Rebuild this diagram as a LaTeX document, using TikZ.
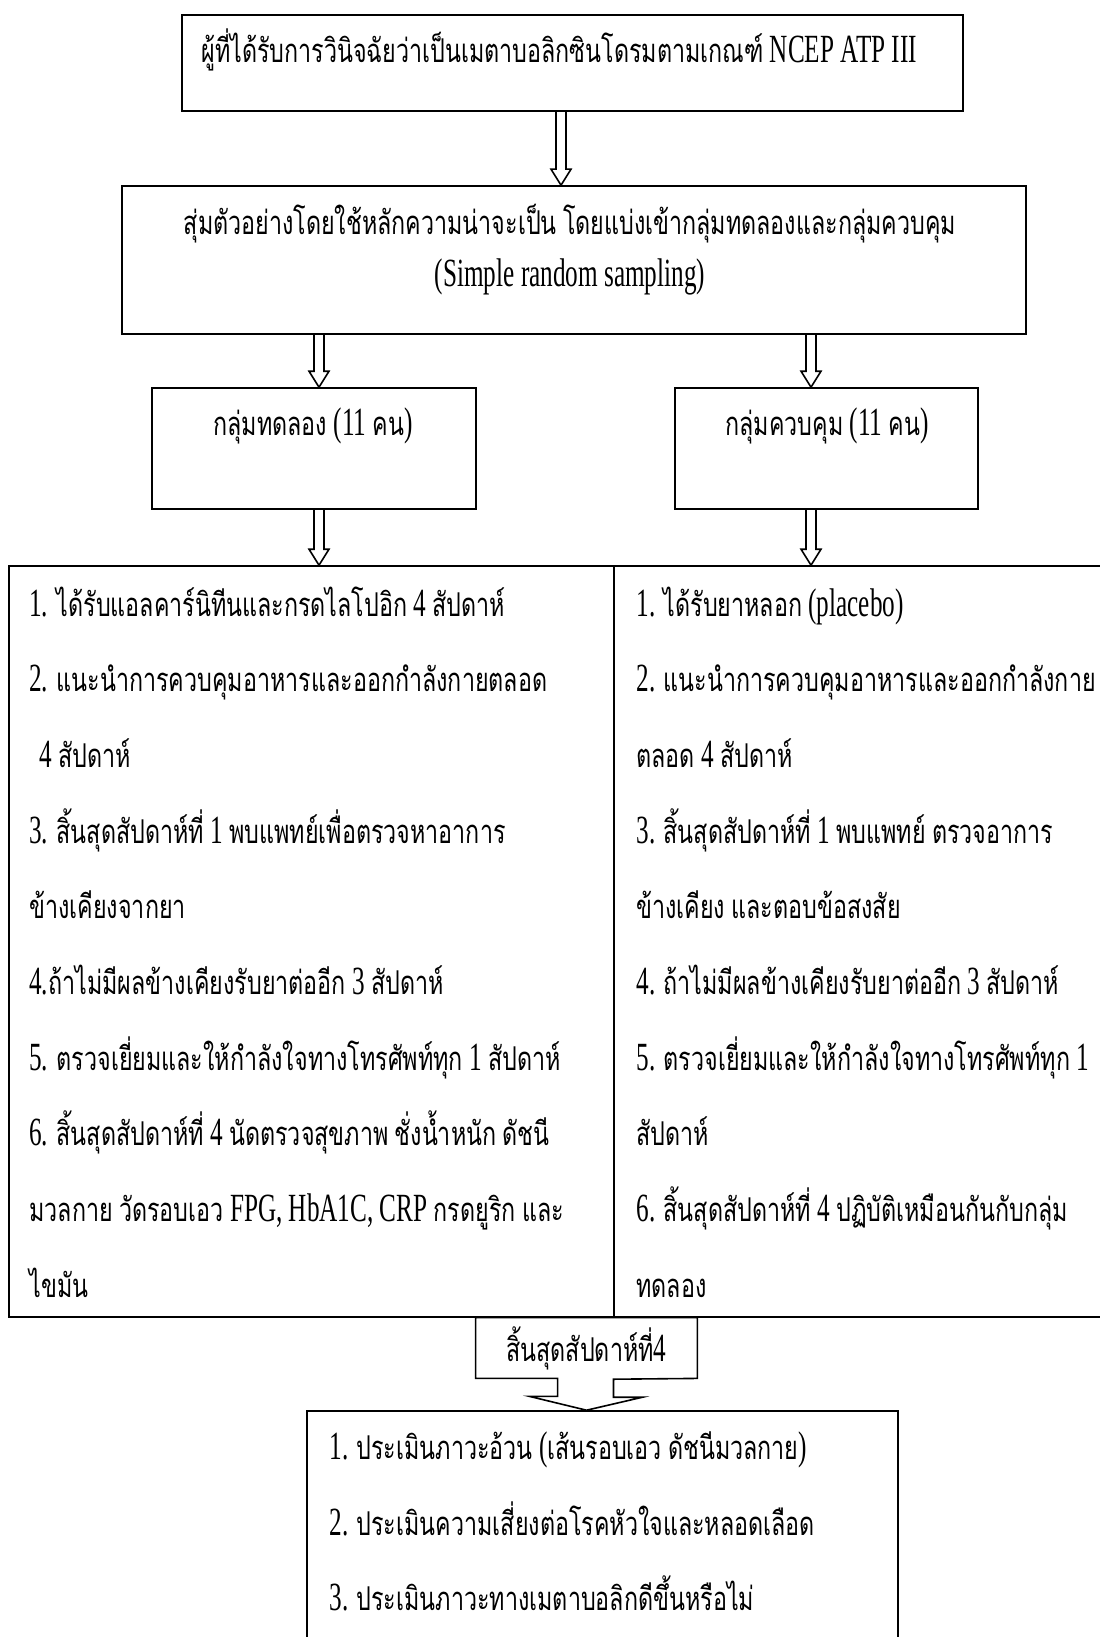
\documentclass[tikz,border=0pt]{standalone}
\usepackage{fontspec}
\setmainfont[FakeStretch=0.63]{Liberation Serif}
\newfontfamily\thaifont[Script=Thai,Scale=0.82,FakeStretch=0.71]{Loma}
\usetikzlibrary{calc}

% Thai runs in Loma, the rest in the main font
\XeTeXinterchartokenstate=1
\newXeTeXintercharclass\thaiclass
\count255="0E00
\loop\ifnum\count255<"0E80
  \XeTeXcharclass\count255=\thaiclass
  \advance\count255 by 1
\repeat
\XeTeXinterchartoks 0 \thaiclass = {\thaifont}
\XeTeXinterchartoks 4095 \thaiclass = {\thaifont}
\XeTeXinterchartoks \thaiclass 0 = {\rmfamily}
\XeTeXinterchartoks \thaiclass 4095 = {\rmfamily}

\newcommand{\bigtxt}{\fontsize{20}{37.85}\selectfont}

\tikzset{
  box/.style={draw, line width=0.8pt, inner sep=0pt},
  txt/.style={inner sep=0pt, font=\bigtxt, align=left},
}

% hollow block arrow at x=#1 from node #2 down to node #3
\newcommand{\holarrow}[3]{%
  \coordinate (hx) at (#1,0);
  \draw[line width=0.8pt] ($(hx |- #2.south)+(-5,0)$) -- ($(hx |- #3.north)+(-5,-16)$) -- ++(-5,0)
    -- (hx |- #3.north) -- ($(hx |- #3.north)+(10,-16)$) -- ++(-5,0) -- ($(hx |- #2.south)+(5,0)$);}

\begin{document}
\begin{tikzpicture}[x=0.5pt,y=-0.5pt]
\useasboundingbox[fill=white] (0,0) rectangle (1099,1637);

%top
\node[box, minimum width=390.5pt, minimum height=48pt] (topbox) at (572.5,63) {};
\node[txt, anchor=west] (toptxt) at (201,50) {ผู้ที่ได้รับการวินิจฉัยว่าเป็นเมตาบอลิกซินโดรมตามเกณฑ์ NCEP ATP III};

%sampling
\node[box, minimum width=452pt, minimum height=74pt] (sampbox) at (574,260) {};
\node[txt, align=center, font=\fontsize{20}{26}\selectfont] (samptxt) at (570,250) {สุ่มตัวอย่างโดยใช้หลักความน่าจะเป็น โดยแบ่งเข้ากลุ่มทดลองและกลุ่มควบคุม\\(Simple random sampling)};

%groups
\node[box, minimum width=162pt, minimum height=60.5pt] (grpA) at (314,448.5) {};
\node[txt] (grpAtxt) at (313,426) {กลุ่มทดลอง (11 คน)};
\node[box, minimum width=151.5pt, minimum height=60.5pt] (grpB) at (826.5,448.5) {};
\node[txt] (grpBtxt) at (827,426) {กลุ่มควบคุม (11 คน)};

%details
\node[box, minimum width=302.5pt, minimum height=375.5pt] (detL) at (311.5,941.5) {};
\node[box, minimum width=248pt, minimum height=375.5pt] (detR) at (862,941.5) {};
\node[txt, anchor=west] (detLtxt) at (29,942) {1. ได้รับแอลคาร์นิทีนและกรดไลโปอิก 4 สัปดาห์\\
2. แนะนำการควบคุมอาหารและออกกำลังกายตลอด\\
\hspace*{0.25em}4 สัปดาห์\\
3. สิ้นสุดสัปดาห์ที่ 1 พบแพทย์เพื่อตรวจหาอาการ\\
ข้างเคียงจากยา\\
4.ถ้าไม่มีผลข้างเคียงรับยาต่ออีก 3 สัปดาห์\\
5. ตรวจเยี่ยมและให้กำลังใจทางโทรศัพท์ทุก 1 สัปดาห์\\
6. สิ้นสุดสัปดาห์ที่ 4 นัดตรวจสุขภาพ ชั่งน้ำหนัก ดัชนี\\
มวลกาย วัดรอบเอว FPG, HbA1C, CRP กรดยูริก และ\\
ไขมัน};
\node[txt, anchor=west] (detRtxt) at (636,942) {1. ได้รับยาหลอก (placebo)\\
2. แนะนำการควบคุมอาหารและออกกำลังกาย\\
ตลอด 4 สัปดาห์\\
3. สิ้นสุดสัปดาห์ที่ 1 พบแพทย์ ตรวจอาการ\\
ข้างเคียง และตอบข้อสงสัย\\
4. ถ้าไม่มีผลข้างเคียงรับยาต่ออีก 3 สัปดาห์\\
5. ตรวจเยี่ยมและให้กำลังใจทางโทรศัพท์ทุก 1\\
สัปดาห์\\
6. สิ้นสุดสัปดาห์ที่ 4 ปฏิบัติเหมือนกันกับกลุ่ม\\
ทดลอง};

%end of week 4
\node[txt, minimum width=110.5pt, minimum height=30pt] (endlbl) at (586.5,1348) {สิ้นสุดสัปดาห์ที่4};

%evaluation
\node[box, minimum width=295.5pt, minimum height=144.5pt] (evalbox) at (602.5,1555.5) {};
\node[txt, anchor=west] (evaltxt) at (329,1521.5) {1. ประเมินภาวะอ้วน (เส้นรอบเอว ดัชนีมวลกาย)\\
2. ประเมินความเสี่ยงต่อโรคหัวใจและหลอดเลือด\\
3. ประเมินภาวะทางเมตาบอลิกดีขึ้นหรือไม่};

%arrows
\holarrow{561}{topbox}{sampbox}
\holarrow{319}{sampbox}{grpA}
\holarrow{811}{sampbox}{grpB}
\holarrow{319}{grpA}{detL}
\holarrow{811}{grpB}{detR}
\draw[line width=0.8pt] (endlbl.south east) -- (endlbl.north east) -- (endlbl.north west) -- (endlbl.south west)
  -- ++(82,0) -- ++(0,18) -- ++(-28,0) -- (endlbl.south |- evalbox.north) -- ++(56,-13) -- ++(-29,0) -- ++(0,-18) -- cycle;
\end{tikzpicture}
\end{document}
